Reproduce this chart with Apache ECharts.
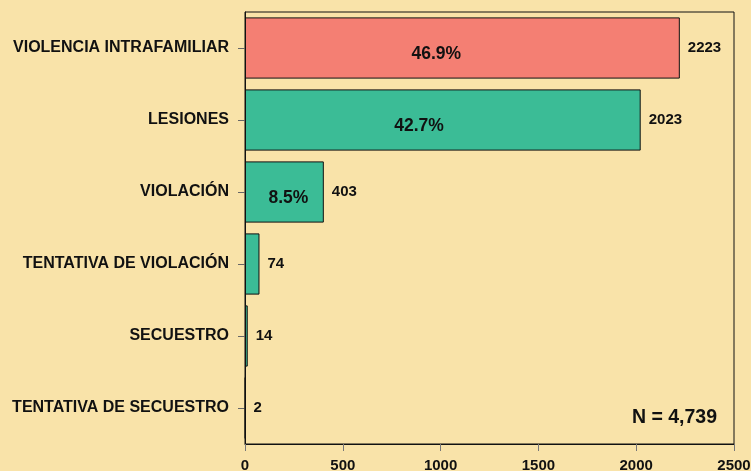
<!DOCTYPE html>
<html>
<head>
<meta charset="utf-8">
<script src="https://cdn.jsdelivr.net/npm/echarts@6/dist/echarts.min.js"></script>
<style>
  html, body { margin: 0; padding: 0; background: #F9E3A9; }
  #chart { width: 751px; height: 471px; }
</style>
</head>
<body>
<div id="chart"></div>
<script>
// Offence categories, counts and their shares of the total
const categories = ['VIOLENCIA INTRAFAMILIAR', 'LESIONES', 'VIOLACIÓN', 'TENTATIVA DE VIOLACIÓN', 'SECUESTRO', 'TENTATIVA DE SECUESTRO'];
const counts = [2223, 2023, 403, 74, 14, 2];
const shares = ['46.9%', '42.7%', '8.5%', '', '', ''];
const barColors = ['#F47F73', '#3BBC96', '#3BBC96', '#3BBC96', '#3BBC96', '#3BBC96'];
const shareX = ['44%', '44%', '55%', '50%', '50%', '50%'];
const xTicks = [0, 500, 1000, 1500, 2000, 2500];
const totalText = 'N = 4,739';

const FONT = '"Liberation Sans", Arial, Helvetica, sans-serif';

const chart = echarts.init(document.getElementById('chart'));

chart.setOption({
  backgroundColor: '#F9E3A9',
  animation: false,
  textStyle: { fontFamily: FONT },
  grid: {
    left: 245, right: 17, top: 12, bottom: 27,
    outerBoundsMode: 'none',
    containLabel: false,
    show: true, borderColor: '#111', borderWidth: 1, backgroundColor: 'transparent'
  },
  xAxis: {
    type: 'value',
    min: xTicks[0], max: xTicks[xTicks.length - 1], interval: 500,
    axisLine: { show: true, lineStyle: { color: '#111', width: 1 } },
    axisTick: { show: true, length: 7, lineStyle: { color: '#777' } },
    splitLine: { show: false },
    axisLabel: {
      color: '#111', fontWeight: 'bold', fontSize: 15, fontFamily: FONT, margin: 14,
      formatter: v => String(v)
    }
  },
  yAxis: {
    type: 'category',
    inverse: true,
    data: categories,
    axisLine: { show: true, lineStyle: { color: '#111', width: 1 } },
    axisTick: { show: true, alignWithLabel: true, length: 7, lineStyle: { color: '#666' } },
    axisLabel: { color: '#111', fontWeight: 'bold', fontSize: 16, fontFamily: FONT, margin: 16 }
  },
  series: [
    {
      // main bars with share labels inside
      type: 'bar',
      barCategoryGap: '15%',
      barGap: '-100%',
      z: 2,
      data: counts.map((v, i) => ({
        value: v,
        itemStyle: { color: barColors[i] },
        label: {
          show: shares[i] !== '',
          position: [shareX[i], '60%'],
          align: 'center',
          verticalAlign: 'middle',
          formatter: shares[i]
        }
      })),
      itemStyle: { borderColor: '#111', borderWidth: 1 },
      label: { color: '#111', fontWeight: 'bold', fontSize: 17.5, fontFamily: FONT }
    },
    {
      // count labels at the bar ends
      type: 'bar',
      barCategoryGap: '15%',
      barGap: '-100%',
      z: 1,
      data: counts,
      itemStyle: { color: 'transparent' },
      silent: true,
      label: {
        show: true, position: 'right', distance: 8,
        color: '#111', fontWeight: 'bold', fontSize: 15, fontFamily: FONT
      }
    }
  ],
  graphic: [{
    type: 'text',
    right: 34, top: 408,
    style: { text: totalText, fill: '#111', font: 'bold 19.5px ' + FONT }
  }]
});
</script>
</body>
</html>
